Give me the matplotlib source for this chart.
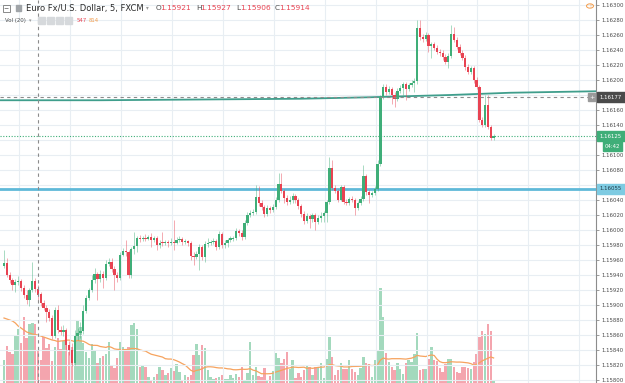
import numpy as np
import pandas as pd
import matplotlib.pyplot as plt
import matplotlib.transforms as mtrans
from matplotlib.patches import Rectangle, Circle

# --- data (EUR/USD, 5 min, FXCM)
opens = [
    1.15952, 1.15956, 1.15940, 1.15933, 1.15927, 1.15931, 1.15932, 1.15923, 1.15913, 1.15907,
    1.15920, 1.15932, 1.15921, 1.15914, 1.15903, 1.15896, 1.15891, 1.15883, 1.15859, 1.15893,
    1.15867, 1.15864, 1.15867, 1.15847, 1.15840, 1.15823, 1.15859, 1.15863, 1.15865, 1.15892,
    1.15909, 1.15920, 1.15933, 1.15941, 1.15935, 1.15941, 1.15936, 1.15955, 1.15957, 1.15948,
    1.15940, 1.15936, 1.15967, 1.15972, 1.15971, 1.15940, 1.15975, 1.15979, 1.15989, 1.15988,
    1.15989, 1.15988, 1.15991, 1.15987, 1.15989, 1.15980, 1.15984, 1.15983, 1.15984, 1.15983,
    1.15984, 1.15983, 1.15987, 1.15988, 1.15984, 1.15985, 1.15983, 1.15965, 1.15964, 1.15968,
    1.15977, 1.15964, 1.15981, 1.15983, 1.15984, 1.15985, 1.15977, 1.15995, 1.15980, 1.15983,
    1.15987, 1.15988, 1.15989, 1.15999, 1.15996, 1.15991, 1.16009, 1.16020, 1.16023, 1.16024,
    1.16044, 1.16036, 1.16031, 1.16021, 1.16029, 1.16027, 1.16031, 1.16040, 1.16061, 1.16052,
    1.16043, 1.16037, 1.16040, 1.16045, 1.16040, 1.16032, 1.16021, 1.16012, 1.16019, 1.16015,
    1.16020, 1.16011, 1.16016, 1.16019, 1.16023, 1.16037, 1.16083, 1.16056, 1.16052, 1.16040,
    1.16057, 1.16037, 1.16036, 1.16041, 1.16040, 1.16029, 1.16036, 1.16041, 1.16072, 1.16051,
    1.16047, 1.16049, 1.16055, 1.16088, 1.16177, 1.16191, 1.16184, 1.16188, 1.16180, 1.16175,
    1.16185, 1.16189, 1.16195, 1.16188, 1.16193, 1.16196, 1.16199, 1.16269, 1.16257, 1.16255,
    1.16260, 1.16245, 1.16248, 1.16243, 1.16237, 1.16236, 1.16231, 1.16224, 1.16232, 1.16261,
    1.16253, 1.16244, 1.16236, 1.16229, 1.16217, 1.16211, 1.16216, 1.16200, 1.16191, 1.16147,
    1.16140, 1.16167, 1.16137, 1.16123,
]
highs = [
    1.15973, 1.15963, 1.15944, 1.15936, 1.15935, 1.15939, 1.15935, 1.15927, 1.15920, 1.15923,
    1.15957, 1.15936, 1.15927, 1.15917, 1.15907, 1.15900, 1.15895, 1.15887, 1.15897, 1.15900,
    1.15872, 1.15873, 1.15869, 1.15852, 1.15849, 1.15867, 1.15869, 1.15877, 1.15900, 1.15913,
    1.15923, 1.15940, 1.15949, 1.15944, 1.15947, 1.15945, 1.15960, 1.15963, 1.15963, 1.15952,
    1.15944, 1.15971, 1.15976, 1.15987, 1.15973, 1.15977, 1.15997, 1.15992, 1.15993, 1.15992,
    1.15995, 1.15993, 1.15996, 1.15992, 1.15992, 1.15987, 1.15997, 1.15987, 1.15987, 1.15989,
    1.16013, 1.15991, 1.15992, 1.15991, 1.15988, 1.15987, 1.15985, 1.15971, 1.15972, 1.15981,
    1.15980, 1.15985, 1.15989, 1.15987, 1.15989, 1.15988, 1.15999, 1.15997, 1.15987, 1.15989,
    1.15992, 1.15992, 1.16003, 1.16001, 1.16000, 1.16013, 1.16024, 1.16027, 1.16028, 1.16060,
    1.16059, 1.16040, 1.16033, 1.16033, 1.16032, 1.16035, 1.16044, 1.16076, 1.16076, 1.16055,
    1.16047, 1.16045, 1.16049, 1.16048, 1.16043, 1.16035, 1.16025, 1.16023, 1.16021, 1.16023,
    1.16023, 1.16020, 1.16024, 1.16025, 1.16040, 1.16097, 1.16093, 1.16060, 1.16055, 1.16060,
    1.16060, 1.16041, 1.16044, 1.16045, 1.16043, 1.16039, 1.16045, 1.16087, 1.16075, 1.16053,
    1.16052, 1.16059, 1.16093, 1.16180, 1.16195, 1.16195, 1.16192, 1.16191, 1.16184, 1.16189,
    1.16193, 1.16197, 1.16197, 1.16196, 1.16200, 1.16203, 1.16280, 1.16280, 1.16261, 1.16264,
    1.16263, 1.16251, 1.16251, 1.16247, 1.16241, 1.16240, 1.16235, 1.16236, 1.16273, 1.16271,
    1.16257, 1.16248, 1.16240, 1.16233, 1.16221, 1.16219, 1.16219, 1.16204, 1.16193, 1.16151,
    1.16180, 1.16180, 1.16140, 1.16128,
]
lows = [
    1.15949, 1.15937, 1.15929, 1.15920, 1.15917, 1.15927, 1.15919, 1.15909, 1.15901, 1.15899,
    1.15917, 1.15917, 1.15906, 1.15899, 1.15893, 1.15877, 1.15879, 1.15855, 1.15856, 1.15863,
    1.15860, 1.15859, 1.15840, 1.15833, 1.15819, 1.15820, 1.15853, 1.15856, 1.15861, 1.15889,
    1.15907, 1.15917, 1.15929, 1.15907, 1.15931, 1.15923, 1.15933, 1.15952, 1.15944, 1.15920,
    1.15931, 1.15933, 1.15965, 1.15965, 1.15936, 1.15936, 1.15968, 1.15971, 1.15984, 1.15985,
    1.15985, 1.15987, 1.15977, 1.15984, 1.15973, 1.15976, 1.15979, 1.15980, 1.15977, 1.15980,
    1.15973, 1.15981, 1.15984, 1.15980, 1.15981, 1.15979, 1.15960, 1.15953, 1.15961, 1.15947,
    1.15960, 1.15957, 1.15977, 1.15980, 1.15981, 1.15973, 1.15975, 1.15976, 1.15976, 1.15977,
    1.15984, 1.15985, 1.15987, 1.15992, 1.15987, 1.15988, 1.16007, 1.16017, 1.16020, 1.16021,
    1.16032, 1.16027, 1.16017, 1.16019, 1.16023, 1.16024, 1.16028, 1.16037, 1.16049, 1.16036,
    1.16033, 1.16035, 1.16036, 1.16036, 1.16028, 1.16017, 1.16008, 1.16009, 1.16003, 1.16011,
    1.16000, 1.16008, 1.16011, 1.16011, 1.16011, 1.16035, 1.16053, 1.16049, 1.16037, 1.16039,
    1.16035, 1.16033, 1.16033, 1.16037, 1.16020, 1.16027, 1.16033, 1.16039, 1.16047, 1.16036,
    1.16044, 1.16047, 1.16052, 1.16085, 1.16175, 1.16180, 1.16181, 1.16168, 1.16164, 1.16172,
    1.16183, 1.16180, 1.16173, 1.16185, 1.16191, 1.16184, 1.16195, 1.16253, 1.16251, 1.16252,
    1.16237, 1.16229, 1.16240, 1.16235, 1.16232, 1.16227, 1.16221, 1.16216, 1.16229, 1.16251,
    1.16241, 1.16233, 1.16227, 1.16213, 1.16208, 1.16208, 1.16196, 1.16188, 1.16144, 1.16137,
    1.16137, 1.16135, 1.16120, 1.16120,
]
closes = [
    1.15956, 1.15940, 1.15933, 1.15927, 1.15931, 1.15932, 1.15923, 1.15913, 1.15907, 1.15920,
    1.15932, 1.15921, 1.15914, 1.15903, 1.15896, 1.15891, 1.15883, 1.15859, 1.15893, 1.15867,
    1.15864, 1.15867, 1.15847, 1.15840, 1.15823, 1.15859, 1.15863, 1.15865, 1.15892, 1.15909,
    1.15920, 1.15933, 1.15941, 1.15935, 1.15941, 1.15936, 1.15955, 1.15957, 1.15948, 1.15940,
    1.15936, 1.15967, 1.15972, 1.15971, 1.15940, 1.15975, 1.15979, 1.15989, 1.15988, 1.15989,
    1.15988, 1.15991, 1.15987, 1.15989, 1.15980, 1.15983, 1.15983, 1.15984, 1.15983, 1.15984,
    1.15983, 1.15987, 1.15988, 1.15984, 1.15985, 1.15983, 1.15965, 1.15964, 1.15968, 1.15977,
    1.15964, 1.15981, 1.15983, 1.15984, 1.15985, 1.15977, 1.15995, 1.15980, 1.15983, 1.15987,
    1.15989, 1.15989, 1.15999, 1.15996, 1.15991, 1.16009, 1.16020, 1.16023, 1.16024, 1.16044,
    1.16036, 1.16031, 1.16021, 1.16029, 1.16027, 1.16031, 1.16040, 1.16061, 1.16052, 1.16043,
    1.16037, 1.16040, 1.16045, 1.16040, 1.16032, 1.16021, 1.16012, 1.16019, 1.16015, 1.16020,
    1.16011, 1.16016, 1.16019, 1.16023, 1.16037, 1.16083, 1.16056, 1.16052, 1.16040, 1.16057,
    1.16037, 1.16036, 1.16041, 1.16040, 1.16029, 1.16036, 1.16041, 1.16072, 1.16051, 1.16047,
    1.16049, 1.16055, 1.16088, 1.16177, 1.16191, 1.16184, 1.16188, 1.16180, 1.16175, 1.16185,
    1.16189, 1.16195, 1.16188, 1.16193, 1.16196, 1.16199, 1.16269, 1.16257, 1.16255, 1.16260,
    1.16245, 1.16248, 1.16243, 1.16237, 1.16236, 1.16231, 1.16224, 1.16232, 1.16261, 1.16253,
    1.16244, 1.16236, 1.16229, 1.16217, 1.16211, 1.16216, 1.16200, 1.16191, 1.16147, 1.16140,
    1.16167, 1.16137, 1.16123, 1.16125,
]
volumes = [
    391, 629, 527, 493, 816, 918, 680, 1122, 765, 1003,
    1020, 1003, 547, 391, 782, 595, 663, 374, 612, 765,
    578, 714, 714, 527, 612, 612, 1071, 952, 680, 527,
    425, 663, 561, 340, 425, 459, 493, 697, 289, 255,
    425, 697, 612, 578, 612, 986, 1020, 918, 272, 289,
    272, 102, 51, 102, 153, 272, 221, 136, 170, 255,
    204, 323, 187, 34, 136, 102, 136, 476, 663, 476,
    646, 595, 221, 102, 68, 85, 102, 136, 68, 68,
    136, 85, 153, 102, 272, 51, 170, 697, 136, 272,
    119, 102, 255, 51, 119, 204, 510, 425, 340, 408,
    527, 238, 391, 85, 170, 102, 221, 306, 272, 136,
    272, 272, 340, 85, 408, 782, 442, 136, 221, 340,
    238, 238, 391, 238, 187, 136, 255, 442, 340, 323,
    102, 391, 544, 1615, 1122, 510, 357, 272, 221, 340,
    238, 153, 340, 391, 357, 493, 850, 221, 238, 238,
    408, 612, 391, 374, 255, 187, 323, 408, 408, 272,
    187, 170, 272, 272, 255, 238, 357, 493, 782, 884,
    833, 1003, 884, 34,
]
# Vol MA(20) for the first bars (needs bars left of the screen)
vol_ma_head = [1105, 1088, 1071, 1054, 1020, 969, 935, 901, 867, 850,
               833, 825, 814, 799, 782, 765, 748, 731, 722]

# long moving average (teal), read at a few bar positions
ma_idx = [-1.4, 33.9, 69.3, 104.6, 129.3, 157.6, 178.8, 209.2]
ma_val = [1.16173, 1.16173, 1.16174, 1.16175, 1.16177, 1.16180, 1.16183, 1.16185]

hline_level = 1.16055
cross_level = 1.16177
cross_bar = 12
last_price = 1.16125

price_ticks = [1.16300, 1.16280, 1.16260, 1.16240, 1.16220, 1.16200, 1.16160,
               1.16140, 1.16100, 1.16080, 1.16040, 1.16020, 1.16000, 1.15980,
               1.15960, 1.15940, 1.15920, 1.15900, 1.15880, 1.15860, 1.15840,
               1.15820, 1.15800]
grid_levels = np.arange(1.15800, 1.16301, 0.0002)
time_grid = np.arange(5.3, 209, 18)

GREEN = "#3fae78"
RED = "#e84352"
GREEN_V = "#a3d9bd"
RED_V = "#f4a5ae"
GRID = "#e8eef3"

W, H = 625, 383
PX_PER_BAR = 2.83
X0 = 4.0

o = np.array(opens); h = np.array(highs); l = np.array(lows); c = np.array(closes)
v = np.array(volumes)
x = np.arange(len(c))
up = c >= o

vol_ma = pd.Series(v).rolling(20).mean().to_numpy()
vol_ma[:len(vol_ma_head)] = vol_ma_head

fig = plt.figure(figsize=(W / 100, H / 100), dpi=100)
rect = [0, 0, 596 / W, 1]

# volume underneath
axv = fig.add_axes(rect)
axv.set_xlim(-X0 / PX_PER_BAR, (596 - X0) / PX_PER_BAR)
axv.set_ylim(0, 383 * 17)
axv.bar(x, v, 0.85, color=np.where(up, GREEN_V, RED_V), lw=0, zorder=2)
axv.plot(x, vol_ma, color="#f6a35e", lw=0.9, zorder=3)
axv.axis("off")

ax = fig.add_axes(rect, sharex=axv)
ax.patch.set_alpha(0)
ax.set_ylim(1.163 - 378 / 75000, 1.163 + 5 / 75000)

for g in grid_levels:
    ax.axhline(g, color=GRID, lw=0.8, zorder=0)
for t in time_grid:
    ax.axvline(t, color=GRID, lw=0.8, zorder=0)

ax.plot(ma_idx, ma_val, color="#3f9e8c", lw=1.3, zorder=3)
ax.axhline(hline_level, color="#5fb9d8", lw=2.0, zorder=3)
ax.axhline(last_price, color=GREEN, lw=0.8, ls=(0, (1, 1.5)), zorder=3)
ax.axhline(cross_level, color="#8c8c8c", lw=0.8, ls=(0, (3, 3)), zorder=6)
ax.axvline(cross_bar, color="#8c8c8c", lw=0.8, ls=(0, (3, 3)), zorder=6)

cols = np.where(up, GREEN, RED)
ax.vlines(x, l, h, colors=cols, lw=0.7, alpha=0.45, zorder=4)
body = np.maximum(np.abs(c - o), 0.000013)
ax.bar(x, body, 0.8, bottom=np.minimum(o, c), color=cols, lw=0, zorder=5)

ax.yaxis.tick_right()
ax.set_yticks(price_ticks)
ax.set_yticklabels([f"{p:.5f}" for p in price_ticks])
ax.tick_params(axis="y", length=2.5, width=0.6, pad=1.5, labelsize=3.9,
               colors="#8c8c8c", labelcolor="#4a4a4a")
ax.set_xticks([])
for s in ["top", "left", "bottom"]:
    ax.spines[s].set_visible(False)
ax.spines["right"].set_color("#8c8c8c")
ax.spines["right"].set_linewidth(0.8)

# --- price labels on the axis
bt = mtrans.blended_transform_factory(fig.transFigure, ax.transData)
def axis_box(price, text, bg, fg, x0=597, x1=625, hpx=10):
    hh = hpx / 75000
    fig.patches.append(Rectangle((x0 / W, price - hh / 2), (x1 - x0) / W, hh,
                                 transform=bt, color=bg, zorder=10))
    fig.text((x0 + x1) / 2 / W, price, text, transform=bt, ha="center",
             va="center", size=3.9, color=fg, zorder=11)

axis_box(cross_level, "1.16177", "#4a4a4a", "white")
axis_box(last_price, "1.16125", GREEN, "white")
axis_box(last_price - 10 / 75000, "04:42", GREEN, "white", x0=603, x1=622)
axis_box(hline_level, "1.16055", "#7ecbe2", "#1d3c4a")
fig.patches.append(Rectangle((588 / W, cross_level - 4 / 75000), 7 / W, 8 / 75000,
                             transform=bt, color="#9a9a9a", zorder=10))
fig.text(591.5 / W, cross_level, "+", transform=bt, ha="center", va="center",
         size=4.5, color="white", zorder=11)

# --- header
def fx(px):
    return px / W

def fy(py):
    return 1 - py / H

fig.patches.append(Rectangle((fx(3), fy(11.5)), 7 / W, 7 / H, transform=fig.transFigure,
                             fill=False, ec="#777777", lw=0.6))
fig.text(fx(6.5), fy(7.8), "−", ha="center", va="center", size=4.5, color="#555555")
fig.patches.append(Rectangle((fx(16), fy(11)), 5 / W, 6 / H, transform=fig.transFigure,
                             color="#a0a4a8"))
fig.text(fx(26), fy(8), "Euro Fx/U.S. Dollar, 5, FXCM", ha="left", va="center",
         size=6.0, color="#2b2b2b")
fig.text(fx(146), fy(8), "▾", ha="left", va="center", size=4, color="#999999")
for px, lab, val in [(156, "O", "1.15921"), (196, "H", "1.15927"),
                     (236, "L", "1.15906"), (275, "C", "1.15914")]:
    fig.text(fx(px), fy(8), lab, ha="left", va="center", size=5.3, color="#4a4a4a")
    fig.text(fx(px + 4.5), fy(8), val, ha="left", va="center", size=5.3, color=RED)

fig.text(fx(5), fy(20.5), "Vol (20)", ha="left", va="center", size=3.9, color="#4a4a4a")
fig.text(fx(29), fy(20.5), "▾", ha="left", va="center", size=3.5, color="#999999")
for px in [38, 47, 56, 65]:
    fig.patches.append(Rectangle((fx(px), fy(24)), 7 / W, 7 / H, transform=fig.transFigure,
                                 color="#d6d9dc"))
fig.text(fx(77), fy(20.5), "547", ha="left", va="center", size=3.9, color=RED)
fig.text(fx(89), fy(20.5), "814", ha="left", va="center", size=3.9, color="#f39c4b")

fig.patches.append(Circle((fx(590), fy(6)), 3.5 / W, transform=fig.transFigure,
                          fill=False, ec="#f39c4b", lw=0.7))
fig.text(fx(590), fy(6), "!", ha="center", va="center", size=3.5, color="#f39c4b")

fig.savefig("out.png", dpi=100)
